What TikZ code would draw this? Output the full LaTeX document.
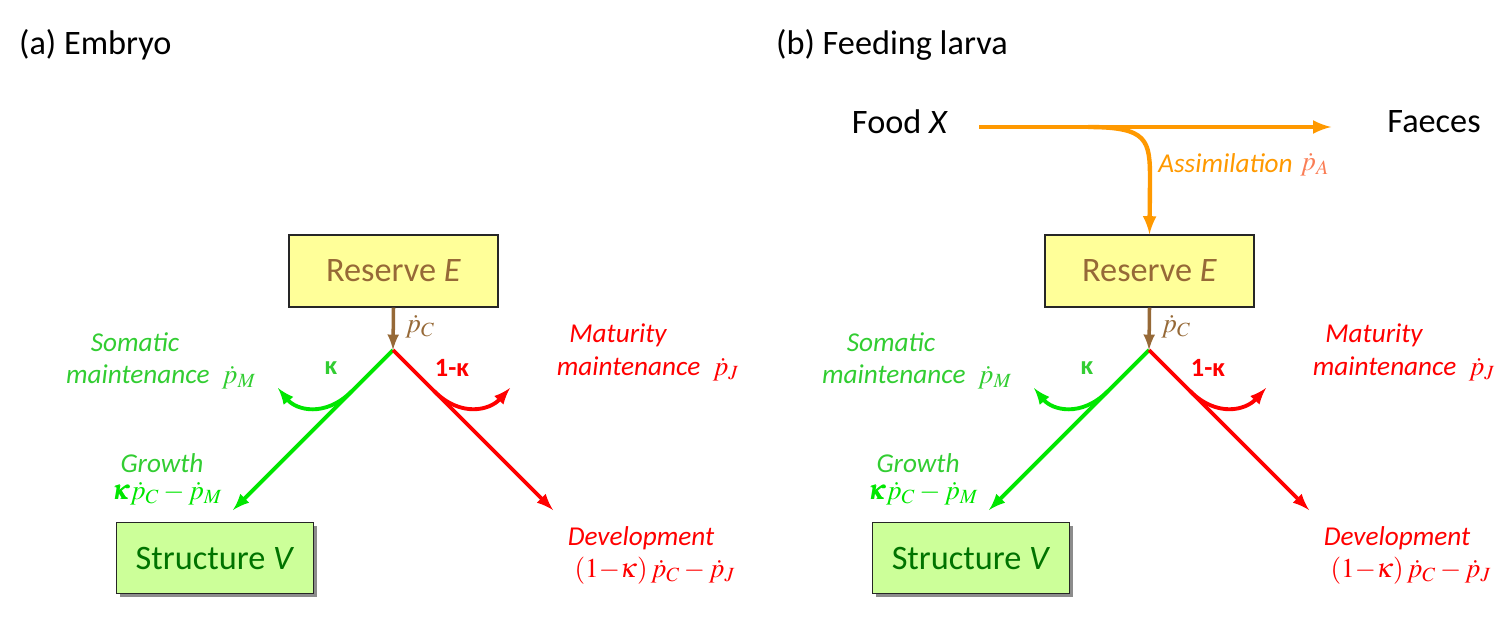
\documentclass[tikz,border=0pt]{standalone}
\usepackage{fontspec}
\usepackage{mathptmx}
\usepackage{bm}
\setmainfont{Carlito}
\usetikzlibrary{shadows}
\definecolor{resfill}{RGB}{255,255,153}
\definecolor{strfill}{RGB}{204,255,153}
\definecolor{strtext}{RGB}{0,115,0}
\definecolor{brownish}{RGB}{150,105,55}
\definecolor{grline}{RGB}{0,230,0}
\definecolor{grtext}{RGB}{50,205,50}
\definecolor{redline}{RGB}{255,0,0}
\definecolor{orangeline}{RGB}{255,153,0}
\definecolor{salmon}{RGB}{250,125,85}
\newcommand\tightmath{\medmuskip=2.5mu\relax}
\tikzset{
  big/.style={font=\fontsize{19.5}{22}\selectfont},
  lab/.style={font={\fontsize{15.5}{17}\selectfont\itshape\tightmath}, inner sep=0pt},
  flux/.style={line width=2.2pt, -latex},
}
\begin{document}
\begin{tikzpicture}[x=0.02cm, y=-0.02cm]
  \useasboundingbox (0,0) rectangle (1510,637);
  \node[big, anchor=west] (titlea) at (13,45) {(a) Embryo};
  \node[big, anchor=west] (titleb) at (770,45) {(b) Feeding larva};
  \foreach \dx/\p in {0/a,756/b}{
    \begin{scope}[shift={(\dx,0)}]
      \node[big, draw=black!85, thick, fill=resfill, text=brownish, minimum width=4.18cm, minimum height=1.44cm] (res\p) at (393.5,271) {Reserve \textit{E}};
      \node[big, draw=black!85, thick, fill=strfill, text=strtext, minimum width=3.94cm, minimum height=1.42cm,
            drop shadow={shadow xshift=0.07cm, shadow yshift=-0.07cm, fill=gray, opacity=0.9}] (str\p) at (215,558) {Structure \textit{V}};
      \coordinate (j\p) at (393,350);
      \coordinate (g\p) at (233,510);
      \coordinate (d\p) at (553,510);
      \draw[brownish, line width=2pt, -latex] (res\p.south) -- (j\p);
      \draw[grline, flux] (j\p) -- (g\p);
      \draw[redline, flux] (j\p) -- (d\p);
      \draw[grline, flux] (352,391) .. controls (325,418) and (296,410) .. (278,388);
      \draw[redline, flux] (434,391) .. controls (461,418) and (490,410) .. (510,388);
      \node[lab, text=brownish, anchor=west] (pc\p) at (405,327) {$\dot p_C$};
      \node[font=\fontsize{15}{17}\selectfont\bfseries, text=grtext] (k\p) at (331,368) {κ};
      \node[font=\fontsize{15}{17}\selectfont\bfseries, text=redline] (k1\p) at (452,368) {1-κ};
      \node[lab, text=grtext] (som\p) at (135,342) {Somatic};
      \node[lab, text=grtext] (sm\p) at (161,377) {maintenance\ \ $\dot p_M$};
      \node[lab, text=grtext] (gr\p) at (162,463) {Growth};
      \node[lab, text=grline] (gf\p) at (167,494) {$\bm{\kappa}\dot p_C-\dot p_M$};
      \node[lab, text=redline] (mat\p) at (618,335) {Maturity};
      \node[lab, text=redline] (mm\p) at (648,369) {maintenance\ \ $\dot p_J$};
      \node[lab, text=redline] (dev\p) at (641,538) {Development};
      \node[lab, text=redline] (df\p) at (655,571) {$(1{-}\kappa)\,\dot p_C-\dot p_J$};
    \end{scope}}
  % feeding: food to faeces, assimilation into reserve
  \node[big] (food) at (900,122) {Food \textit{X}};
  \node[big] (faeces) at (1434,122) {Faeces};
  \draw[orangeline, flux, line width=2.5pt] ([xshift=0.5cm, yshift=-0.1cm]food.east) -- ([xshift=-1cm, yshift=-0.1cm]faeces.west);
  \coordinate (split) at (1088,127);
  \draw[orangeline, flux, line width=2.5pt] (split) .. controls (1148,127) and (1150,140) .. (1150,180) -- (resb.north);
  \node[lab, text=orangeline, anchor=west] (assim) at (1158,163) {Assimilation};
  \node[lab, text=salmon, anchor=west] (pa) at (1300,165) {$\dot p_A$};
\end{tikzpicture}
\end{document}
